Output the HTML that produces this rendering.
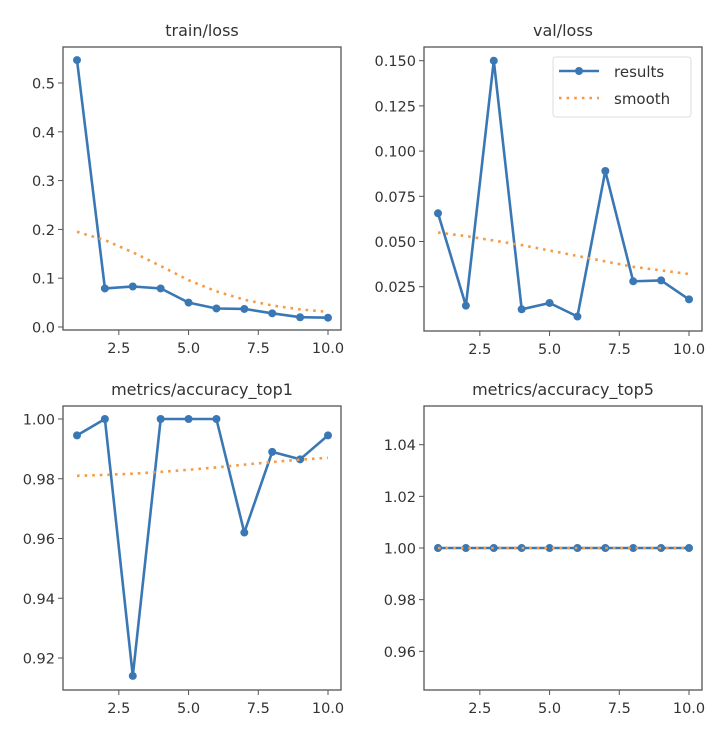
<!DOCTYPE html>
<html><head><meta charset="utf-8">
<style>
html,body{margin:0;padding:0;background:#fff;}
svg{display:block;font-family:"DejaVu Sans","Liberation Sans",sans-serif;}
</style></head>
<body>
<svg id="chart" width="724" height="736" viewBox="0 0 724 736" xmlns="http://www.w3.org/2000/svg"></svg>
<script>
const epochs = [1,2,3,4,5,6,7,8,9,10];
const xTicks = [2.5,5.0,7.5,10.0];
const xTickLabels = ["2.5","5.0","7.5","10.0"];

const trainLoss = [0.547,0.079,0.083,0.079,0.050,0.038,0.037,0.028,0.020,0.019];
const trainSmooth = [0.195,0.178,0.153,0.125,0.096,0.073,0.056,0.044,0.036,0.031];
const trainTicks = [0.0,0.1,0.2,0.3,0.4,0.5];
const trainTickLabels = ["0.0","0.1","0.2","0.3","0.4","0.5"];

const valLoss = [0.0656,0.0145,0.150,0.0125,0.016,0.0085,0.089,0.028,0.0285,0.018];
const valSmooth = [0.055,0.053,0.0505,0.048,0.045,0.042,0.039,0.036,0.034,0.032];
const valTicks = [0.025,0.050,0.075,0.100,0.125,0.150];
const valTickLabels = ["0.025","0.050","0.075","0.100","0.125","0.150"];

const top1 = [0.9945,1.0,0.914,1.0,1.0,1.0,0.962,0.989,0.9865,0.9945];
const top1Smooth = [0.981,0.9813,0.9817,0.9823,0.983,0.9838,0.9847,0.9856,0.9864,0.987];
const top1Ticks = [0.92,0.94,0.96,0.98,1.00];
const top1TickLabels = ["0.92","0.94","0.96","0.98","1.00"];

const top5 = [1,1,1,1,1,1,1,1,1,1];
const top5Smooth = [1,1,1,1,1,1,1,1,1,1];
const top5Ticks = [0.96,0.98,1.00,1.02,1.04];
const top5TickLabels = ["0.96","0.98","1.00","1.02","1.04"];

const NS = "http://www.w3.org/2000/svg";
const svg = document.getElementById("chart");
const BLUE = "#3a78b5", ORANGE = "#f59a45", TXT = "#333";

function mk(tag, attrs, parent){
  const e = document.createElementNS(NS, tag);
  for (const k in attrs) e.setAttribute(k, attrs[k]);
  (parent||svg).appendChild(e);
  return e;
}

function panel(cfg){
  const g = mk("g", {});
  
  
  const L=cfg.left, R=cfg.right, T=cfg.top, B=cfg.bottom;
  const xs = v => (L+14) + (v-1)*((R-13)-(L+14))/9;
  const ys = v => cfg.y0px + (v-cfg.y0)*(cfg.y1px-cfg.y0px)/(cfg.y1-cfg.y0);

  const title = mk("text", {x:(L+R)/2, y:T-11, "text-anchor":"middle", "font-size":"16", fill:TXT}, g);
  title.textContent = cfg.title;
  
  

  const frame = mk("rect", {x:L, y:T, width:R-L, height:B-T, fill:"none", stroke:"#555", "stroke-width":"1.3"}, g);
  
  

  xTicks.forEach((t,i)=>{
    const x = xs(t);
    mk("line", {x1:x, x2:x, y1:B, y2:B+5, stroke:"#555", "stroke-width":"1"}, g);
    const tl = mk("text", {x:x, y:B+23, "text-anchor":"middle", "font-size":"14.5", fill:TXT}, g);
    tl.textContent = xTickLabels[i];
    
    
  });
  cfg.yTicks.forEach((t,i)=>{
    const y = ys(t);
    mk("line", {x1:L-5, x2:L, y1:y, y2:y, stroke:"#555", "stroke-width":"1"}, g);
    const tl = mk("text", {x:L-8, y:y+5.5, "text-anchor":"end", "font-size":"14.5", fill:TXT}, g);
    tl.textContent = cfg.yLabels[i];
    
    
  });

  const sp = epochs.map((e,i)=>xs(e).toFixed(1)+","+ys(cfg.series[i]).toFixed(1)).join(" ");
  const line = mk("polyline", {points:sp, fill:"none", stroke:BLUE, "stroke-width":"2.6", "stroke-linejoin":"round"}, g);
  
  
  epochs.forEach((e,i)=>{
    const c = mk("circle", {cx:xs(e), cy:ys(cfg.series[i]), r:"4", fill:BLUE}, g);
    
    
  });
  const ssp = epochs.map((e,i)=>xs(e).toFixed(1)+","+ys(cfg.smooth[i]).toFixed(1)).join(" ");
  const sl = mk("polyline", {points:ssp, fill:"none", stroke:ORANGE, "stroke-width":"2.6", "stroke-dasharray":"2.6,5"}, g);
  
  
}

panel({name:"train-loss", title:"train/loss", left:63, right:341, top:47, bottom:330,
  y0:0, y0px:327, y1:0.5, y1px:83, yTicks:trainTicks, yLabels:trainTickLabels,
  series:trainLoss, smooth:trainSmooth});
panel({name:"val-loss", title:"val/loss", left:424, right:702, top:47, bottom:331,
  y0:0.025, y0px:286.7, y1:0.150, y1px:60.7, yTicks:valTicks, yLabels:valTickLabels,
  series:valLoss, smooth:valSmooth});
panel({name:"accuracy-top1", title:"metrics/accuracy_top1", left:63, right:341, top:406, bottom:690,
  y0:0.92, y0px:658, y1:1.00, y1px:419, yTicks:top1Ticks, yLabels:top1TickLabels,
  series:top1, smooth:top1Smooth});
panel({name:"accuracy-top5", title:"metrics/accuracy_top5", left:424, right:702, top:406, bottom:690,
  y0:0.96, y0px:651.3, y1:1.04, y1px:444.7, yTicks:top5Ticks, yLabels:top5TickLabels,
  series:top5, smooth:top5Smooth});

const lg = mk("g", {});


mk("rect", {x:553, y:57, width:138, height:60, rx:3, fill:"#fff", stroke:"#ddd", "stroke-width":"1"}, lg);
mk("line", {x1:559, x2:599, y1:71, y2:71, stroke:BLUE, "stroke-width":"2.6"}, lg);
mk("circle", {cx:579, cy:71, r:"4", fill:BLUE}, lg);
const t1 = mk("text", {x:614, y:77, "font-size":"15", fill:TXT}, lg);
t1.textContent = "results";


mk("line", {x1:559, x2:599, y1:98, y2:98, stroke:ORANGE, "stroke-width":"2.6", "stroke-dasharray":"2.6,5"}, lg);
const t2 = mk("text", {x:614, y:104, "font-size":"15", fill:TXT}, lg);
t2.textContent = "smooth";


</script>
</body></html>
